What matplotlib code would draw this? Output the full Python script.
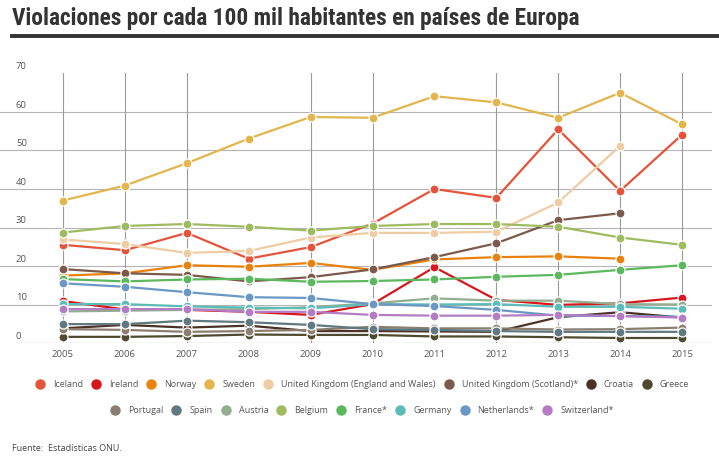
import matplotlib
matplotlib.use("Agg")
import matplotlib.pyplot as plt
from matplotlib.lines import Line2D
import matplotlib.transforms as mtransforms
from matplotlib import font_manager as fm

years = [2005, 2006, 2007, 2008, 2009, 2010, 2011, 2012, 2013, 2014, 2015]

iceland = [25.5, 24.1, 28.6, 21.9, 24.9, 31.0, 40.0, 37.7, 55.5, 39.5, 54.1]
ireland = [10.9, 8.7, 8.6, 8.1, 7.3, 10.1, 19.7, 11.2, 9.9, 10.3, 11.8]
norway = [17.5, 18.1, 20.2, 19.8, 20.8, 19.0, 21.7, 22.3, 22.5, 21.9, None]
sweden = [37.0, 40.9, 46.7, 53.1, 58.7, 58.5, 64.1, 62.5, 58.5, 65.0, 56.8]
uk_ew = [26.9, 25.7, 23.4, 23.9, 27.4, 28.6, 28.6, 28.9, 36.5, 51.2, None]
uk_sc = [19.2, 18.1, 17.7, 16.0, 17.1, 19.1, 22.3, 25.9, 31.9, 33.7, None]
croatia = [3.8, 4.7, 4.0, 4.5, 3.1, 3.1, 3.0, 2.9, 6.7, 8.0, 6.6]
greece = [1.6, 1.6, 1.8, 2.2, 2.1, 2.1, 1.7, 1.7, 1.5, 1.3, 1.3]
portugal = [3.6, 3.4, 2.9, 3.1, 3.4, 4.2, 3.8, 3.8, 3.5, 3.6, 4.0]
spain = [4.9, 4.9, 5.8, 5.4, 4.7, 3.6, 3.4, 3.1, 2.9, 2.9, 2.9]
austria = [8.2, 8.4, 8.6, 8.8, 9.3, 10.3, 11.6, 11.0, 11.0, 10.1, 10.0]
belgium = [28.7, 30.4, 30.9, 30.2, 29.2, 30.4, 30.9, 30.9, 30.2, 27.4, 25.5]
france = [16.6, 16.0, 16.5, 16.7, 15.9, 16.1, 16.5, 17.2, 17.7, 19.0, 20.2]
germany = [10.1, 10.1, 9.5, 9.2, 9.0, 10.1, 10.0, 10.1, 9.4, 9.4, 8.9]
netherlands = [15.5, 14.6, 13.2, 11.9, 11.7, 10.1, 9.6, 8.6, 7.1, 7.0, 6.8]
switzerland = [8.8, 8.8, 8.8, 8.1, 8.1, 7.3, 7.1, 7.1, 7.3, 7.0, 6.6]

names = ["Iceland", "Ireland", "Norway", "Sweden", "United Kingdom (England and Wales)",
         "United Kingdom (Scotland)*", "Croatia", "Greece", "Portugal", "Spain", "Austria",
         "Belgium", "France*", "Germany", "Netherlands*", "Switzerland*"]
series = [iceland, ireland, norway, sweden, uk_ew, uk_sc, croatia, greece, portugal,
          spain, austria, belgium, france, germany, netherlands, switzerland]
colors = ["#e5533a", "#d8161b", "#e8820c", "#e2b64c", "#efcca4", "#7b5a4b", "#4b3126",
          "#4e4a2f", "#8a7e70", "#60787f", "#93ad8f", "#9fbb60", "#5cb85c", "#5bbcb8",
          "#6a98c4", "#b47cc4"]

yticks = [0, 10, 20, 30, 40, 50, 60, 70]

W, H = 719, 461
fig = plt.figure(figsize=(W / 100, H / 100), dpi=100)
renderer = fig.canvas.get_renderer()

ax = fig.add_axes([0 / W, (H - 343) / H, 712 / W, (343 - 73.5) / H])
px_per_year = 61.9
x0 = 2005 - 63 / px_per_year
x1 = x0 + 712 / px_per_year
ax.set_xlim(x0, x1)
ax.set_ylim(0, 70)
for s in ax.spines.values():
    s.set_visible(False)
ax.set_xticks([])
ax.set_yticks([])

for v in yticks[1:-1]:
    ax.axhline(v, color="#b5b5b5", lw=0.8, zorder=0)
ax.axhline(0, xmin=16 / 712, xmax=1, color="#b5b5b5", lw=0.9, zorder=0)
for yr in years:
    if yr in (2008, 2011):
        continue
    ax.plot([yr, yr], [0, 70], color="#9a9a9a", lw=0.8, zorder=0)

for vals, c in zip(series, colors):
    xs = [x for x, v in zip(years, vals) if v is not None]
    ys = [v for v in vals if v is not None]
    ax.plot(xs, ys, color=c, lw=1.6, marker="o", markersize=6.5,
            markeredgecolor="white", markeredgewidth=0.9, zorder=3, clip_on=False)

trans = mtransforms.blended_transform_factory(ax.transAxes, ax.transData)
for v in yticks:
    ax.text(16 / 712, v + 0.6, str(v), transform=trans, ha="left", va="bottom",
            fontsize=6.8, color="#555555", family="Open Sans")

for yr in years:
    fig.text((63 + (yr - 2005) * px_per_year) / W, (H - 354) / H, str(yr),
             ha="center", va="center", fontsize=6.8, color="#555555", family="Open Sans")

# title: pick a narrow bold font if available, fit width to ~568 px
title_family = "Roboto"
for cand in ["Liberation Sans Narrow", "DejaVu Sans Condensed", "Roboto Condensed",
             "Open Sans Condensed"]:
    try:
        fm.findfont(fm.FontProperties(family=cand), fallback_to_default=False)
        title_family = cand
        break
    except Exception:
        pass
title = fig.text(12 / W, (H - 19) / H,
                 "Violaciones por cada 100 mil habitantes en países de Europa",
                 ha="left", va="center", fontsize=15, fontweight="bold", color="#333333",
                 family=[title_family, "DejaVu Sans"])
tw = title.get_window_extent(renderer).width
title.set_fontsize(15 * 568 / tw)
fig.add_artist(Line2D([12 / W, 1.0], [(H - 36) / H, (H - 36) / H], color="#333333",
                      lw=2.8, transform=fig.transFigure))

# manual legend layout
leg_fs = 6.5
gap = 13  # px marker center -> text, text end -> next marker center


def layout_row(idx, yc, xcenter=362):
    widths = []
    for i in idx:
        t = fig.text(0, 0, names[i], fontsize=leg_fs, family="Open Sans")
        widths.append(t.get_window_extent(renderer).width)
        t.remove()
    total = 5 + sum(gap + w for w in widths) + gap * (len(idx) - 1)
    x = xcenter - total / 2 + 5
    for i, w in zip(idx, widths):
        fig.add_artist(Line2D([x / W], [(H - yc) / H], marker="o", ls="none",
                              markersize=6.5, color=colors[i], transform=fig.transFigure))
        fig.text((x + gap) / W, (H - yc) / H, names[i], ha="left", va="center",
                 fontsize=leg_fs, color="#555555", family="Open Sans")
        x += gap + w + gap


layout_row(list(range(0, 8)), 384)
layout_row(list(range(8, 16)), 410)

fig.text(12 / W, (H - 448) / H, "Fuente:  Estadísticas ONU.", ha="left", va="center",
         fontsize=6.5, color="#444444", family="Open Sans")

fig.savefig("out.png", dpi=100, facecolor="white")
